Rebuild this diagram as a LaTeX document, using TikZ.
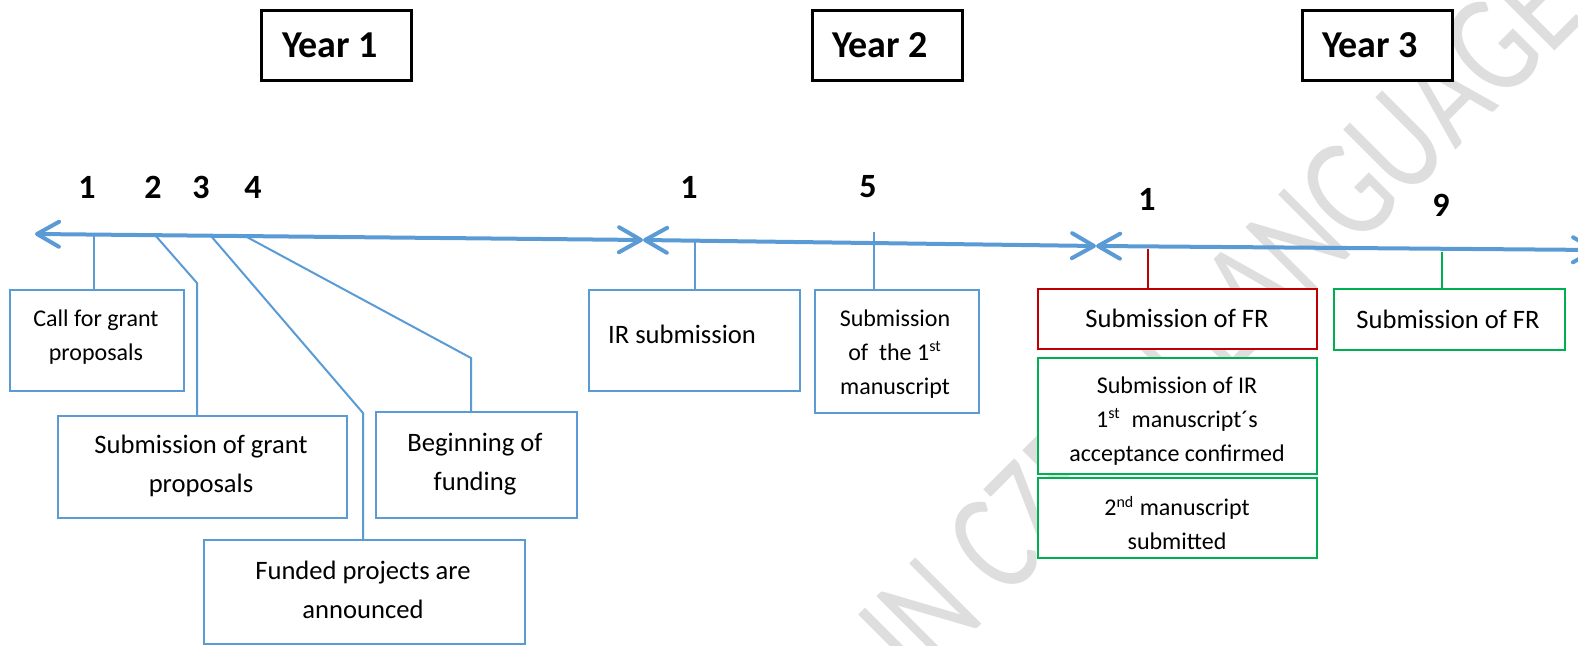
\documentclass[tikz,border=0pt]{standalone}
\usepackage{fontspec}
\setmainfont{Carlito}
\usetikzlibrary{arrows.meta,calc}
\definecolor{tlblue}{RGB}{91,155,213}
\definecolor{frred}{RGB}{192,0,0}
\definecolor{okgreen}{RGB}{0,176,80}
\definecolor{wmgrey}{RGB}{222,222,222}
\begin{document}
\begin{tikzpicture}[x=0.5pt,y=-0.5pt,
  boxbase/.style={draw, line width=1pt, fill=white, inner sep=0pt, anchor=north west},
  bluebox/.style={boxbase, draw=tlblue},
  redbox/.style={boxbase, draw=frred},
  greenbox/.style={boxbase, draw=okgreen},
  yearbox/.style={boxbase, draw=black, line width=1.3pt, minimum width=75pt, minimum height=35pt},
  yeartxt/.style={font=\fontsize{19}{23}\selectfont\bfseries, inner sep=0pt},
  num/.style={font=\fontsize{17}{20}\selectfont\bfseries, inner sep=0pt},
  bigtxt/.style={align=center, inner sep=0pt, font=\fontsize{13.3}{19.3}\selectfont},
  smalltxt/.style={align=center, inner sep=0pt, font=\fontsize{12}{17}\selectfont},
  timeline/.style={draw=tlblue, line width=2pt, line cap=round,
     {Straight Barb[length=11pt,width=12.5pt,round]}-{Straight Barb[length=11pt,width=12.5pt,round]}},
  conn/.style={draw=tlblue, line width=1pt},
  wm/.style={font=\fontsize{73}{80}\selectfont, text=wmgrey, inner sep=0pt,
     rotate=45, xscale=0.75, anchor=base west}
]
\useasboundingbox (0,0) rectangle (1578,646);

% watermark (behind everything)
\begin{scope}
\clip (0,0) rectangle (1578,646);
\foreach \ch/\d [count=\k] in {I/0, N/27.6, C/123.1, Z/181.4, E/234.0, C/287.4, H/345.8,
    L/438.8, A/484.8, N/548.2, G/618.9, U/688.0, A/759.5, G/822.9, E/892.0}{
  \node[wm] (wm\k) at ($(918.2,687.8)+(0.7071*\d,-0.7071*\d)$) {\ch};
}
\end{scope}

% year boxes
\node[yearbox] (y1) at (260,9) {};
\node[yeartxt] (y1t) at (330,45) {Year 1};
\node[yearbox] (y2) at (811,9) {};
\node[yeartxt] (y2t) at (880,45) {Year 2};
\node[yearbox] (y3) at (1301,9) {};
\node[yeartxt] (y3t) at (1370,45) {Year 3};

% numbers
\node[num] (n11) at (87,187) {1};
\node[num] (n12) at (153,187) {2};
\node[num] (n13) at (201,187) {3};
\node[num] (n14) at (253,187) {4};
\node[num] (n21) at (689,187) {1};
\node[num] (n25) at (868,187) {5};
\node[num] (n31) at (1147,199) {1};
\node[num] (n39) at (1441,205) {9};

% timeline points
\coordinate (a0) at (35,234);
\coordinate (a1) at (643,240);
\coordinate (a2) at (1096,246);
\coordinate (a3) at (1597,250);

% boxes
\node[bluebox, minimum width=87pt, minimum height=50.5pt] (call) at (9,289) {};
\node[smalltxt] (callt) at (96,337) {Call for grant\\proposals};
\node[bluebox, minimum width=144.5pt, minimum height=51pt] (subg) at (57,415) {};
\node[bigtxt] (subgt) at (201,466) {Submission of grant\\proposals};
\node[bluebox, minimum width=100.5pt, minimum height=53pt] (begin) at (375,411) {};
\node[bigtxt] (begint) at (475,464) {Beginning of\\funding};
\node[bluebox, minimum width=160.5pt, minimum height=52pt] (fund) at (203,539) {};
\node[bigtxt] (fundt) at (363,590) {Funded projects are\\announced};
\node[bluebox, minimum width=105.5pt, minimum height=50.5pt] (irs) at (588,289) {};
\node[bigtxt] (irst) at (682,334) {IR submission};
\node[bluebox, minimum width=82pt, minimum height=61.5pt] (first) at (814,289) {};
\node[smalltxt] (firstt) at (895,354) {Submission\\of\ \ the 1\textsuperscript{st}\\manuscript};
\node[redbox, minimum width=139.5pt, minimum height=30pt] (fr1) at (1037,288) {};
\node[bigtxt] (fr1t) at (1177,318) {Submission of FR};
\node[greenbox, minimum width=139.5pt, minimum height=58pt] (ir3) at (1037,357) {};
\node[smalltxt] (ir3t) at (1177,421) {Submission of IR\\1\textsuperscript{st}\ \ manuscript´s\\acceptance confirmed};
\node[greenbox, minimum width=139.5pt, minimum height=40pt] (ms2) at (1037,477) {};
\node[smalltxt] (ms2t) at (1177,523) {2\textsuperscript{nd} manuscript\\submitted};
\node[greenbox, minimum width=115.5pt, minimum height=30.5pt] (fr2) at (1333,288) {};
\node[bigtxt] (fr2t) at (1448,319) {Submission of FR};

% connectors
\coordinate (p1) at (94,235);
\coordinate (p2) at (155,235);
\coordinate (b2) at (197,283);
\coordinate (p3) at (211,236);
\coordinate (b3) at (363,413);
\coordinate (p4) at (245,236);
\coordinate (b4) at (471,358);
\coordinate (pir) at (695,242);
\coordinate (p5) at (874,232);
\coordinate (pfr) at (1148,249);
\coordinate (pg) at (1442,252);
\draw[conn] (p1) -- (p1 |- call.north);
\draw[conn] (p2) -- (b2) -- (b2 |- subg.north);
\draw[conn] (p3) -- (b3) -- (b3 |- fund.north);
\draw[conn] (p4) -- (b4) -- (b4 |- begin.north);
\draw[conn] (pir) -- (pir |- irs.north);
\draw[conn] (p5) -- (p5 |- first.north);
\draw[conn, draw=frred] (pfr) -- (pfr |- fr1.north);
\draw[conn, draw=okgreen] (pg) -- (pg |- fr2.north);

% timeline
\begin{scope}
\clip (0,0) rectangle (1578,646);
\draw[timeline] (a0) -- (a1);
\draw[timeline] (a1) -- (a2);
\draw[timeline] (a2) -- (a3);
\end{scope}
\end{tikzpicture}
\end{document}
